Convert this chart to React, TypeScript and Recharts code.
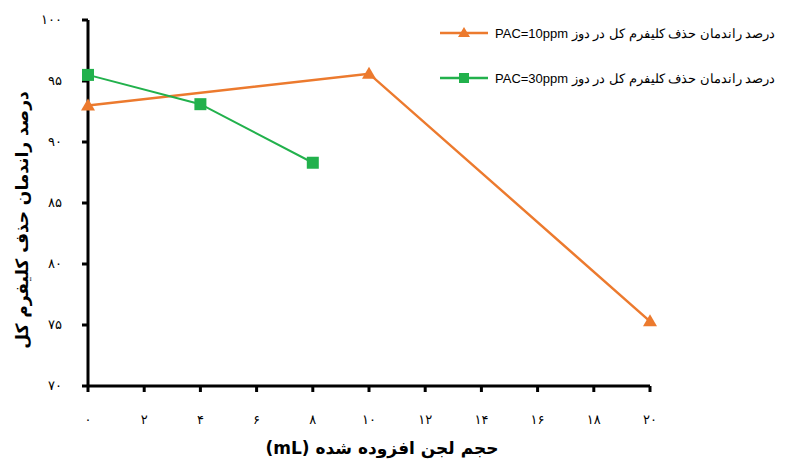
import { LineChart, Line, XAxis, YAxis } from "recharts";

const xTicks = [0, 2, 4, 6, 8, 10, 12, 14, 16, 18, 20];
const yTicks = [70, 75, 80, 85, 90, 95, 100];

const pac10X = [0, 10, 20];
const pac10Y = [93.0, 95.6, 75.3];
const pac30X = [0, 4, 8];
const pac30Y = [95.5, 93.1, 88.3];

const pac10Name = "درصد راندمان حذف کلیفرم کل در دوز PAC=10ppm";
const pac30Name = "درصد راندمان حذف کلیفرم کل در دوز PAC=30ppm";
const xTitle = "حجم لجن افزوده شده (mL)";
const yTitle = "درصد راندمان حذف کلیفرم کل";

const pac10Data = pac10X.map((x, i) => ({ x, y: pac10Y[i] }));
const pac30Data = pac30X.map((x, i) => ({ x, y: pac30Y[i] }));

const ORANGE = "#EC7A2E";
const GREEN = "#22B14C";

const toPersian = (n: number) =>
  String(n).replace(/[0-9]/g, (d) => "۰۱۲۳۴۵۶۷۸۹"[Number(d)]);

const Triangle = (props: any) => {
  const { cx, cy } = props;
  if (cx == null || cy == null) return null;
  return (
    <path
      d={`M${cx},${cy - 7} L${cx + 7},${cy + 5} L${cx - 7},${cy + 5} Z`}
      fill={ORANGE}
    />
  );
};

const Square = (props: any) => {
  const { cx, cy } = props;
  if (cx == null || cy == null) return null;
  return <rect x={cx - 6} y={cy - 6} width={12} height={12} fill={GREEN} />;
};

const XTick = (props: any) => {
  const { x, y, payload } = props;
  return (
    <text x={x} y={y} dy={14} textAnchor="middle" fontSize={13} fontFamily="DejaVu Sans" fill="#000">
      {toPersian(payload.value)}
    </text>
  );
};

const YTick = (props: any) => {
  const { x, y, payload } = props;
  return (
    <text x={x} y={y} dy={4} textAnchor="end" fontSize={13} fontFamily="DejaVu Sans" fill="#000">
      {toPersian(payload.value)}
    </text>
  );
};

// legend drawn outside the chart so it doesn't shrink the plot
const LegendBox = () => {
  const items = [
    { name: pac10Name, color: ORANGE, marker: "tri" },
    { name: pac30Name, color: GREEN, marker: "sq" },
  ];
  return (
    <div
      style={{
        position: "absolute",
        left: 440,
        top: 18,
        fontFamily: "Liberation Sans, Arial, sans-serif",
        fontSize: 13,
        color: "#000",
      }}
    >
      {items.map((it) => (
        <div key={it.name} style={{ display: "flex", alignItems: "center", height: 30, marginBottom: 15 }}>
          <svg width={52} height={14} style={{ flex: "none" }}>
            <line x1={0} y1={7} x2={48} y2={7} stroke={it.color} strokeWidth={2.5} />
            {it.marker === "tri" ? (
              <path d="M24,1 L30,11 L18,11 Z" fill={it.color} />
            ) : (
              <rect x={19} y={2} width={10} height={10} fill={it.color} />
            )}
          </svg>
          <span dir="rtl" style={{ whiteSpace: "nowrap", marginLeft: 3 }}>{it.name}</span>
        </div>
      ))}
    </div>
  );
};

export default function App() {
  return (
    <div style={{ position: "absolute", left: 0, top: 0, width: 791, height: 461, background: "#fff" }}>
      <LineChart width={791} height={461} margin={{ top: 20, right: 141, left: 0, bottom: 0 }}>
        <XAxis
          type="number"
          dataKey="x"
          domain={[0, 20]}
          ticks={xTicks}
          allowDuplicatedCategory={false}
          axisLine={{ stroke: "#000", strokeWidth: 3 }}
          tickLine={{ stroke: "#000", strokeWidth: 3 }}
          tickSize={6}
          tickMargin={18}
          tick={<XTick />}
          height={75}
          label={(p: any) => {
            const vb = p.viewBox;
            return (
              <text
                x={vb.x + vb.width / 2 + 13}
                y={vb.y + 68}
                textAnchor="middle"
                direction="rtl"
                fontSize={17}
                fontWeight="bold"
                fontFamily="DejaVu Sans"
                fill="#000"
              >
                {xTitle}
              </text>
            );
          }}
        />
        <YAxis
          type="number"
          domain={[70, 100]}
          ticks={yTicks}
          width={88}
          axisLine={{ stroke: "#000", strokeWidth: 3 }}
          tickLine={{ stroke: "#000", strokeWidth: 3 }}
          tickSize={6}
          tickMargin={20}
          tick={<YTick />}
          label={(p: any) => {
            const vb = p.viewBox;
            const cy = vb.y + vb.height / 2 + 17;
            return (
              <text
                x={22}
                y={cy}
                transform={`rotate(-90 22 ${cy})`}
                textAnchor="middle"
                dominantBaseline="central"
                fontSize={17}
                fontWeight="bold"
                fontFamily="DejaVu Sans"
                fill="#000"
              >
                {yTitle}
              </text>
            );
          }}
        />
        <Line
          data={pac10Data}
          dataKey="y"
          name={pac10Name}
          stroke={ORANGE}
          strokeWidth={2.5}
          dot={<Triangle />}
          activeDot={false}
          isAnimationActive={false}
        />
        <Line
          data={pac30Data}
          dataKey="y"
          name={pac30Name}
          stroke={GREEN}
          strokeWidth={2}
          dot={<Square />}
          activeDot={false}
          isAnimationActive={false}
        />
      </LineChart>
      <LegendBox />
    </div>
  );
}
